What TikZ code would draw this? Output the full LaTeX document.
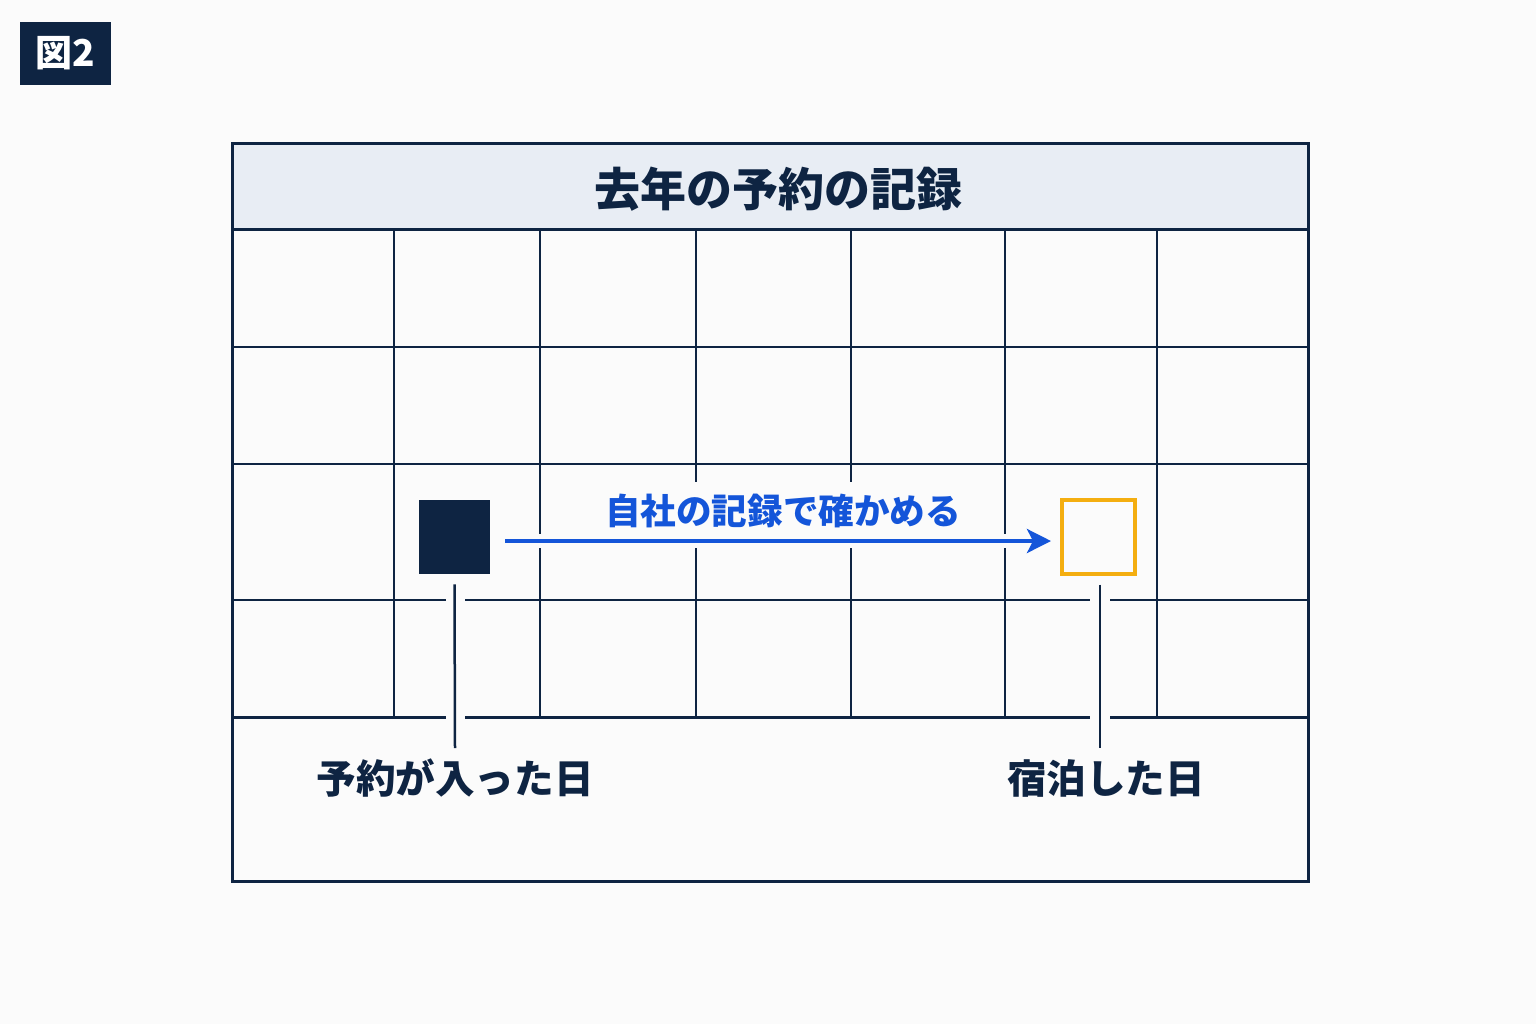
\documentclass[tikz,border=0pt]{standalone}
\usepackage{fontspec}
\newfontfamily\cjk{Noto Sans CJK JP}
\usetikzlibrary{arrows.meta}
\definecolor{navy}{HTML}{0E2442}
\definecolor{bg}{HTML}{FBFBFB}
\definecolor{headfill}{HTML}{E8EDF4}
\definecolor{blueA}{HTML}{1455D9}
\definecolor{orangeA}{HTML}{F4AE10}
\tikzset{
  gridline/.style={draw=navy, line width=1.25pt},
  frameline/.style={draw=navy, line width=1.5pt},
  leader/.style={draw=navy, line width=1.25pt},
  lbl/.style={font=\cjk\bfseries\fontsize{19.8pt}{22pt}\selectfont, text=navy, inner sep=0pt},
}
\begin{document}
\begin{tikzpicture}[x=0.5pt,y=-0.5pt]
\useasboundingbox[fill=bg] (0,0) rectangle (1536,1024);
% badge
\node[fill=navy, minimum width=45.5pt, minimum height=31.5pt, inner sep=0pt, text=white,
      font=\cjk\bfseries\fontsize{18.5pt}{20pt}\selectfont] (badge) at (65.5,53.5) {図2};
% header
\fill[headfill] (232,143) rectangle (1308,229);
\node[font=\cjk\bfseries\fontsize{23pt}{25pt}\selectfont, text=navy, inner sep=0pt] (title) at (778,189) {去年の予約の記録};
% horizontal grid lines
\foreach \y in {347,464,600} { \draw[gridline] (232,\y) -- (1308,\y); }
\draw[frameline] (232,229) -- (1308,229);
\draw[frameline] (232,717) -- (1308,717);
% vertical grid lines
\foreach \x in {394,540,696,851,1005,1157} { \draw[gridline] (\x,229) -- (\x,717); }
% outer frame
\draw[frameline] (232,143) rectangle (1308,881);
% gaps (halo) for leaders
\fill[bg] (446,590) rectangle (465,610);
\fill[bg] (446,707) rectangle (465,727);
\fill[bg] (1090,590) rectangle (1110,610);
\fill[bg] (1090,707) rectangle (1110,727);
% markers
\node[fill=navy, minimum width=35.5pt, minimum height=37pt, inner sep=0pt] (booked) at (454.5,537) {};
\node[draw=orangeA, line width=1.7pt, fill=bg, minimum width=36.5pt, minimum height=37pt, inner sep=0pt] (stay) at (1098.5,537) {};
% label with halo
\node[fill=bg, inner xsep=4pt, inner ysep=6pt, text=blueA, font=\cjk\bfseries\fontsize{17.8pt}{20pt}\selectfont] (check) at (783,511) {自社の記録で確かめる};
% arrow with halo
\coordinate (astart) at (505,541);
\coordinate (aend) at (1051,541);
\draw[bg, line width=7pt] (astart) -- (aend);
\draw[blueA, line width=2pt, -{Stealth[length=12pt,width=12pt,inset=3pt]}] (astart) -- (aend);
% labels
\node[lbl] (lbooked) at (455,778) {予約が入った日};
\node[lbl] (lstay) at (1106,778) {宿泊した日};
% leaders
\coordinate (l1) at (455,748);
\coordinate (l2) at (1100,748);
\draw[leader] ([yshift=-5pt]booked.south) -- (l1);
\draw[leader] ([yshift=-4.5pt]stay.south -| l2) -- (l2);
\end{tikzpicture}
\end{document}
